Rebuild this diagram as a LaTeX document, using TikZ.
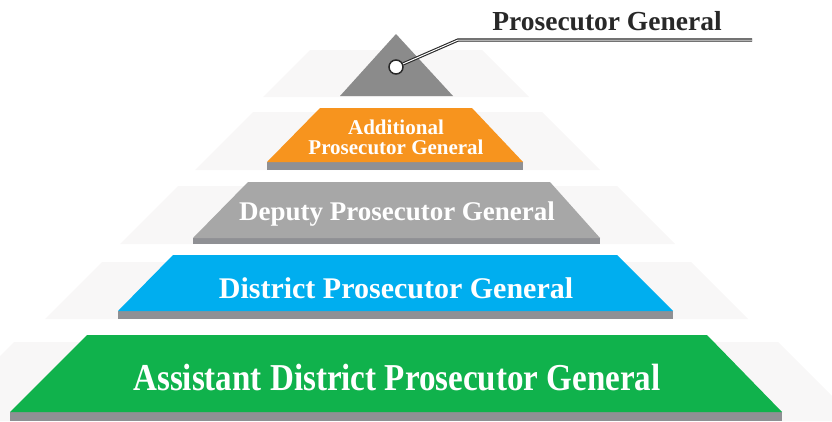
\documentclass[tikz,border=0pt]{standalone}
\usepackage{fontspec}
\setmainfont{Liberation Serif}
\definecolor{ghost}{RGB}{248,247,247}
\definecolor{ledge}{RGB}{143,144,148}
\definecolor{peak}{RGB}{139,139,139}
\definecolor{addl}{RGB}{247,148,30}
\definecolor{depty}{RGB}{167,167,167}
\definecolor{distr}{RGB}{0,174,239}
\definecolor{assis}{RGB}{16,178,76}
\definecolor{ink}{RGB}{40,40,40}
\begin{document}
\begin{tikzpicture}[x=1pt,y=-1pt,
  lbl/.style={text=white, font=\bfseries, inner sep=0pt, anchor=base},
]
\useasboundingbox (0,0) rectangle (832,421);
% pale shadows behind each level
\fill[ghost] (310,50) -- (482,50) -- (529,97) -- (263,97) -- cycle;
\fill[ghost] (253,112) -- (542,112) -- (600,170) -- (195,170) -- cycle;
\fill[ghost] (178,186) -- (617,186) -- (675,244) -- (120,244) -- cycle;
\fill[ghost] (102,262) -- (691,262) -- (748,319) -- (45,319) -- cycle;
\fill[ghost] (14,342) -- (778,342) -- (857,421) -- (-65,421) -- cycle;
% levels with their bottom ledges
\fill[peak] (396,34) -- (453,96) -- (340,96) -- cycle;
\fill[ledge] (267,162) rectangle (523,170);
\fill[addl] (320,108) -- (472,108) -- (523,162) -- (267,162) -- cycle;
\fill[ledge] (193,238) rectangle (600,244);
\fill[depty] (248,182) -- (550,182) -- (600,238) -- (193,238) -- cycle;
\fill[ledge] (118,311) rectangle (673,319);
\fill[distr] (173,255) -- (617,255) -- (673,311) -- (118,311) -- cycle;
\fill[ledge] (10,412) rectangle (782,421);
\fill[assis] (87,335) -- (707,335) -- (782,412) -- (10,412) -- cycle;
% labels
\node[lbl, align=center, anchor=center, font=\bfseries\fontsize{21}{20}\selectfont] (addlbl) at (396,137) {Additional\\Prosecutor General};
\node[lbl, font=\bfseries\fontsize{27}{27}\selectfont] (deplbl) at (397,220) {Deputy Prosecutor General};
\node[lbl, font=\bfseries\fontsize{30}{30}\selectfont] (distlbl) at (396,298) {District Prosecutor General};
\node[lbl, font=\bfseries\fontsize{38}{38}\selectfont] (asslbl) at (397,390) {\scalebox{0.87}[1]{Assistant District Prosecutor General}};
% callout to the top
\node[circle, draw=ink, line width=1.5pt, fill=white, minimum size=14pt, inner sep=0pt] (pg) at (396,67) {};
\coordinate (bend) at (458,40);
\coordinate (tail) at (752,40);
\draw[ink, line width=1.1pt, double=white, double distance=1pt] (pg) -- (bend) -- (tail);
\node[lbl, text=ink, font=\bfseries\fontsize{27.5}{27.5}\selectfont] (pglbl) at (607,30) {Prosecutor General};
\end{tikzpicture}
\end{document}
